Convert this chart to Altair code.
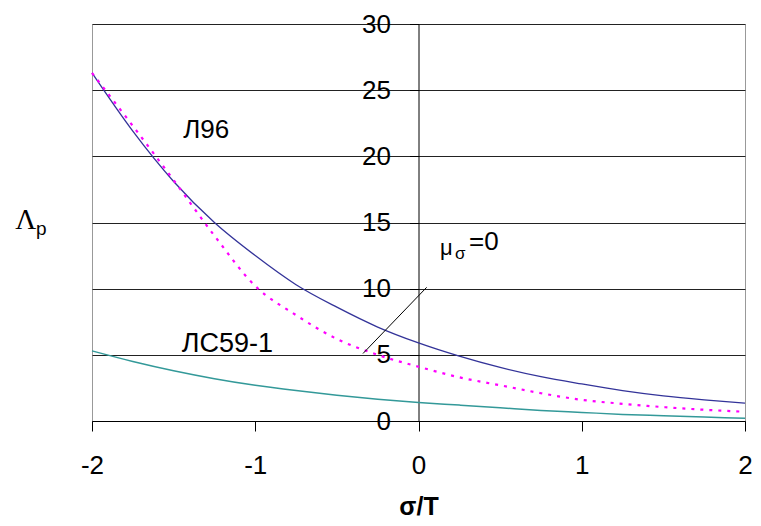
import altair as alt
import pandas as pd

# ---- data ----
x_vals = [-2, -1.75, -1.5, -1.25, -1, -0.75, -0.5, -0.25, 0,
          0.25, 0.5, 0.75, 1, 1.25, 1.5, 1.75, 2]
l96 = [26.3, 21.9, 18.1, 15.0, 12.5, 10.3, 8.6, 7.1, 5.9,
       4.9, 4.05, 3.35, 2.8, 2.3, 1.9, 1.6, 1.35]
dotted = [26.3, 22.3, 18.2, 14.0, 10.2, 8.0, 6.2, 5.0, 4.1,
          3.3, 2.7, 2.1, 1.6, 1.3, 1.05, 0.85, 0.7]
lc59 = [5.3, 4.5, 3.8, 3.2, 2.7, 2.3, 1.95, 1.65, 1.4,
        1.2, 1.0, 0.8, 0.65, 0.5, 0.4, 0.3, 0.2]

x_ticks = [-2, -1, 0, 1, 2]
y_ticks = [0, 5, 10, 15, 20, 25, 30]

# annotation pointer line (data units)
pointer_x = [-0.34, 0.05]
pointer_y = [5.1, 10.1]

# text labels: text, x, y, size
lab_text = ["Л96", "ЛС59-1", "μ", "σ", "=0", "p"]
lab_x = [-1.30, -1.17, 0.17, 0.255, 0.40, -2.31]
lab_y = [22.0, 5.85, 13.1, 12.6, 13.5, 14.5]
lab_size = [26, 27, 22, 17, 26, 19]

serif_text = ["Λ"]
serif_x = [-2.405]
serif_y = [15.2]
serif_size = [29]

df = pd.DataFrame({"x": x_vals, "l96": l96, "dotted": dotted, "lc59": lc59})
ptr = pd.DataFrame({"x": pointer_x, "y": pointer_y})
labs = pd.DataFrame({"t": lab_text, "x": lab_x, "y": lab_y, "s": lab_size})
serif = pd.DataFrame({"t": serif_text, "x": serif_x, "y": serif_y, "s": serif_size})

FONT = "Liberation Sans"
W = 653

xscale = alt.Scale(domain=[-2, 2], nice=False, zero=False)
yscale = alt.Scale(domain=[0, 30], nice=False)

xaxis = alt.Axis(values=x_ticks, labelExpr="'' + datum.value", labelFontSize=26,
                 labelFont=FONT, labelColor="black", tickColor="black", tickSize=10,
                 labelPadding=21, domainColor="black", grid=False, title="σ/T",
                 titleFont=FONT, titleFontSize=25, titleFontWeight="bold",
                 titleColor="black", titlePadding=16, labelFlush=False)
yaxis = alt.Axis(values=y_ticks, labelExpr="'' + datum.value", labelFontSize=26,
                 labelFont=FONT, labelColor="black", tickColor="black", tickSize=9,
                 labelPadding=19, domainColor="black", grid=True, gridColor="#222222",
                 gridWidth=1, offset=-W / 2, title=None)

base = alt.Chart(df)

blue = base.mark_line(color="#333399", strokeWidth=1.3, interpolate="monotone").encode(
    x=alt.X("x:Q", scale=xscale, axis=xaxis),
    y=alt.Y("l96:Q", scale=yscale, axis=yaxis),
)
mag = base.mark_line(color="#ff00ff", strokeWidth=2.2, strokeDash=[3, 6],
                     interpolate="monotone").encode(
    x=alt.X("x:Q", scale=xscale), y=alt.Y("dotted:Q", scale=yscale))
teal = base.mark_line(color="#339999", strokeWidth=1.5, interpolate="monotone").encode(
    x=alt.X("x:Q", scale=xscale), y=alt.Y("lc59:Q", scale=yscale))

pointer = alt.Chart(ptr).mark_line(color="black", strokeWidth=1).encode(
    x=alt.X("x:Q", scale=xscale), y=alt.Y("y:Q", scale=yscale))

texts = alt.Chart(labs).mark_text(font=FONT, color="black", align="center",
                                  baseline="middle", clip=False).encode(
    x=alt.X("x:Q", scale=xscale), y=alt.Y("y:Q", scale=yscale),
    text="t:N", size=alt.Size("s:Q", scale=None, legend=None))

serif_t = alt.Chart(serif).mark_text(font="Liberation Serif", color="black",
                                     align="center", baseline="middle",
                                     clip=False).encode(
    x=alt.X("x:Q", scale=xscale), y=alt.Y("y:Q", scale=yscale),
    text="t:N", size=alt.Size("s:Q", scale=None, legend=None))

chart = alt.layer(blue, mag, teal, pointer, texts, serif_t).properties(
    width=W, height=397,
    autosize=alt.AutoSizeParams(type="none"),
    padding={"left": 84, "top": 16, "right": 8, "bottom": 97},
).configure_view(stroke="#999999", strokeWidth=1)

chart.save("out.html", embed_options={"renderer": "svg", "actions": False})
